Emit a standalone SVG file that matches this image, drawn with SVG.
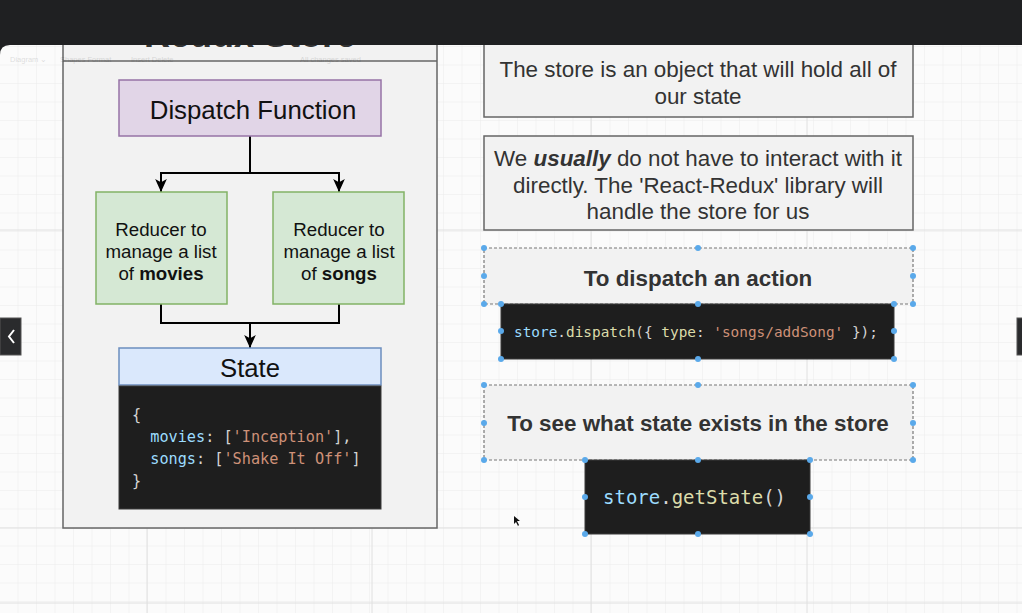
<svg xmlns="http://www.w3.org/2000/svg" width="1022" height="613" viewBox="0 0 1022 613">
<style>
.sans{font-family:"Liberation Sans",Arial,sans-serif;}
.mono{font-family:"DejaVu Sans Mono","Liberation Mono",monospace;}
.box{fill:#f2f2f2;stroke:#666;stroke-width:1.5;}
.sel{fill:#f2f2f2;stroke:#777;stroke-width:1.2;stroke-dasharray:3 2;}
.code{fill:#1e1e1e;stroke:#3a3a3a;stroke-width:1;}
.note{font-size:22.4px;fill:#333;text-anchor:middle;}
.head{font-size:22.4px;font-weight:bold;fill:#333;text-anchor:middle;}
.rd{font-size:18.7px;fill:#111;text-anchor:middle;}
.k{fill:#9cdcfe;}.p{fill:#d4d4d4;}.s{fill:#ce9178;}.f{fill:#dcdcaa;}
.wire{fill:none;stroke:#000;stroke-width:2;}
.h{fill:#5aa9ea;}
.tb{font-size:7.5px;fill:#000;opacity:0.12;}
</style>
<defs>
<pattern id="gmin" width="18.5" height="18.5" patternUnits="userSpaceOnUse" x="0" y="10">
<path d="M18.5 0V18.5M0 18.5H18.5" fill="none" stroke="#ececec" stroke-width="1"/>
</pattern>
<marker id="ah" viewBox="0 0 10 10" refX="10" refY="5" markerWidth="13" markerHeight="13" markerUnits="userSpaceOnUse" orient="auto">
<path d="M0 0.5L10 5L0 9.5L2.5 5Z" fill="#000"/>
</marker>
</defs>
<rect width="1022" height="613" fill="#fbfbfb"/>
<rect width="1022" height="613" fill="url(#gmin)"/>
<g stroke="#e0e0e0" stroke-width="1">
<path d="M147 45V613M372 45V613M591 45V613M807 45V613"/>
<path d="M0 528H1022M0 603H1022M0 230H1022"/>
</g>

<!-- Redux Store container -->
<g id="redux-store">
<rect x="63" y="10" width="374" height="518" class="box" stroke-width="2"/>
<line x1="63" y1="61" x2="437" y2="61" stroke="#666" stroke-width="1.5"/>
<text x="250" y="47" class="sans" font-size="36" font-weight="bold" fill="#333" text-anchor="middle">Redux Store</text>
</g>

<!-- connectors -->
<g id="connectors">
<path d="M250 136V173H161V192" class="wire" marker-end="url(#ah)"/>
<path d="M250 173H339V192" class="wire" marker-end="url(#ah)"/>
<path d="M161 304V323H339V304" class="wire"/>
<path d="M250 323V348" class="wire" marker-end="url(#ah)"/>
</g>

<g id="dispatch-function">
<rect x="119" y="80" width="262" height="56" fill="#e1d5e7" stroke="#9673a6" stroke-width="1.5"/>
<text x="253" y="119" class="sans" font-size="25.8" fill="#111" text-anchor="middle">Dispatch Function</text>
</g>

<g id="reducer-movies">
<rect x="96" y="192" width="131" height="112" fill="#d5e8d4" stroke="#82b366" stroke-width="1.5"/>
<text class="sans rd"><tspan x="161" y="235.5">Reducer to</tspan><tspan x="161" y="257.5">manage a list</tspan><tspan x="161" y="279.5">of <tspan font-weight="bold">movies</tspan></tspan></text>
</g>

<g id="reducer-songs">
<rect x="273" y="192" width="131" height="112" fill="#d5e8d4" stroke="#82b366" stroke-width="1.5"/>
<text class="sans rd"><tspan x="339" y="235.5">Reducer to</tspan><tspan x="339" y="257.5">manage a list</tspan><tspan x="339" y="279.5">of <tspan font-weight="bold">songs</tspan></tspan></text>
</g>

<g id="state">
<rect x="119" y="348" width="262" height="37" fill="#dae8fc" stroke="#6c8ebf" stroke-width="1.5"/>
<text x="250" y="377" class="sans" font-size="25.7" fill="#111" text-anchor="middle">State</text>
</g>

<g id="state-code">
<rect x="119" y="386" width="262" height="123" class="code"/>
<text class="mono" font-size="15.2" xml:space="preserve"><tspan x="132" y="420" class="p">{</tspan><tspan x="132" y="442"><tspan class="p">  </tspan><tspan class="k">movies</tspan><tspan class="p">: [</tspan><tspan class="s">'Inception'</tspan><tspan class="p">],</tspan></tspan><tspan x="132" y="464"><tspan class="p">  </tspan><tspan class="k">songs</tspan><tspan class="p">: [</tspan><tspan class="s">'Shake It Off'</tspan><tspan class="p">]</tspan></tspan><tspan x="132" y="486" class="p">}</tspan></text>
</g>

<g id="note-store">
<rect x="484" y="30" width="429" height="87" class="box"/>
<text class="sans note"><tspan x="698" y="77">The store is an object that will hold all of</tspan><tspan x="698" y="104">our state</tspan></text>
</g>

<g id="note-react-redux">
<rect x="484" y="136" width="429" height="94" class="box"/>
<text class="sans note"><tspan x="698" y="166">We <tspan font-weight="bold" font-style="italic">usually</tspan> do not have to interact with it</tspan><tspan x="698" y="193">directly. The 'React-Redux' library will</tspan><tspan x="698" y="219">handle the store for us</tspan></text>
</g>

<g id="dispatch-heading">
<rect x="484" y="248" width="429" height="56" class="sel"/>
<text x="698" y="286" class="sans head">To dispatch an action</text>
</g>

<g id="dispatch-code">
<rect x="501" y="304" width="393" height="55" class="code"/>
<text x="514" y="337" class="mono" font-size="14.4" xml:space="preserve"><tspan class="k">store</tspan><tspan class="p">.</tspan><tspan class="f">dispatch</tspan><tspan class="p">({ </tspan><tspan class="f">type</tspan><tspan class="p">: </tspan><tspan class="s">'songs/addSong'</tspan><tspan class="p"> });</tspan></text>
</g>

<g id="getstate-heading">
<rect x="484" y="385" width="429" height="75" class="sel"/>
<text x="698" y="431" class="sans head">To see what state exists in the store</text>
</g>

<g id="getstate-code">
<rect x="585" y="460" width="225" height="74" class="code"/>
<text x="603" y="504" class="mono" font-size="19" xml:space="preserve"><tspan class="k">store</tspan><tspan class="p">.</tspan><tspan class="f">getState</tspan><tspan class="p">()</tspan></text>
</g>

<!-- selection handles -->
<g class="h">
<circle cx="484" cy="248" r="3"/><circle cx="698" cy="248" r="3"/><circle cx="913" cy="248" r="3"/>
<circle cx="484" cy="276" r="3"/><circle cx="913" cy="276" r="3"/>
<circle cx="484" cy="304" r="3"/><circle cx="698" cy="304" r="3"/><circle cx="913" cy="304" r="3"/>
<circle cx="501" cy="304" r="3"/><circle cx="894" cy="304" r="3"/>
<circle cx="501" cy="331" r="3"/><circle cx="894" cy="331" r="3"/>
<circle cx="501" cy="359" r="3"/><circle cx="698" cy="359" r="3"/><circle cx="894" cy="359" r="3"/>
<circle cx="484" cy="385" r="3"/><circle cx="698" cy="385" r="3"/><circle cx="913" cy="385" r="3"/>
<circle cx="484" cy="423" r="3"/><circle cx="913" cy="423" r="3"/>
<circle cx="484" cy="460" r="3"/><circle cx="698" cy="460" r="3"/><circle cx="913" cy="460" r="3"/>
<circle cx="585" cy="460" r="3"/><circle cx="810" cy="460" r="3"/>
<circle cx="585" cy="497" r="3"/><circle cx="810" cy="497" r="3"/>
<circle cx="585" cy="534" r="3"/><circle cx="698" cy="534" r="3"/><circle cx="810" cy="534" r="3"/>
</g>

<!-- top bar -->
<rect x="0" y="0" width="1022" height="45" fill="#1f2022"/>
<path d="M0 45H10Q0 45 0 55Z" fill="#1f2022"/>

<!-- faint toolbar -->
<g class="sans">
<text x="10" y="62" class="tb">Diagram ⌄</text>
<text x="60" y="62" class="tb">Shapes  Format</text>
<text x="131" y="62" class="tb">Insert  Delete</text>
<text x="300" y="62" class="tb">All changes saved</text>
</g>

<!-- side buttons -->
<rect x="0" y="318" width="21" height="37" fill="#2a2b2d" stroke="#555" stroke-width="1"/>
<path d="M14 330L9 336.5L14 343" fill="none" stroke="#fff" stroke-width="2"/>
<rect x="1017" y="318" width="6" height="37" fill="#2a2b2d" stroke="#555" stroke-width="1"/>

<!-- cursor -->
<path d="M514 516V524L516 522L518 526L519 525L517 521H520Z" fill="#111"/>
</svg>
